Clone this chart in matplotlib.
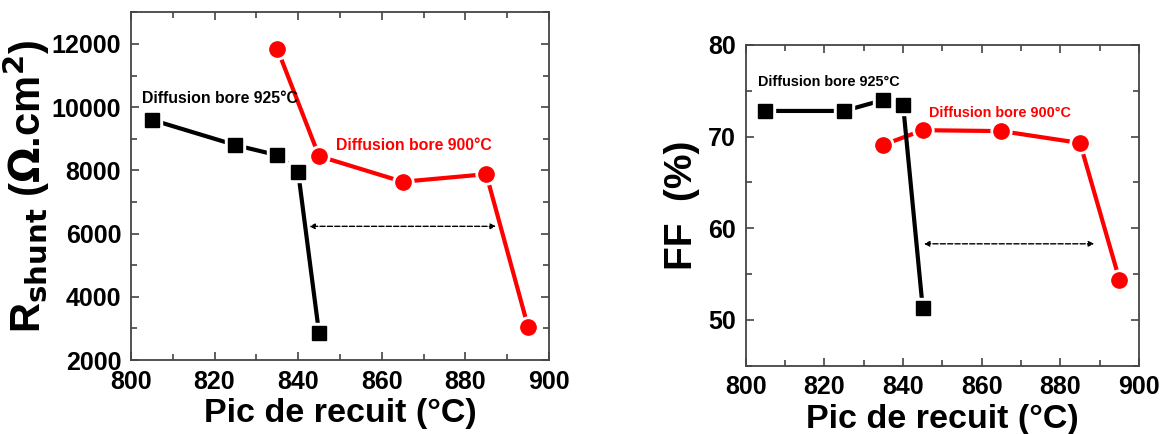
import matplotlib
matplotlib.use("Agg")
import matplotlib.pyplot as plt
from matplotlib.ticker import MultipleLocator

plt.rcParams['font.family'] = ['Liberation Sans', 'DejaVu Sans']
plt.rcParams['font.weight'] = 'bold'

# Data
x_925 = [805, 825, 835, 840, 845]
x_900 = [835, 845, 865, 885, 895]
rshunt_925 = [9600, 8800, 8480, 7950, 2850]
rshunt_900 = [11850, 8450, 7640, 7880, 3050]
ff_925 = [72.8, 72.8, 74.0, 73.5, 51.3]
ff_900 = [69.1, 70.7, 70.6, 69.3, 54.4]

label_925 = 'Diffusion bore 925°C'
label_900 = 'Diffusion bore 900°C'
red = '#ff0000'

fig = plt.figure(figsize=(11.63, 4.34), dpi=100)
ax1 = fig.add_axes([0.1126, 0.1705, 0.3594, 0.801])
ax2 = fig.add_axes([0.6412, 0.1574, 0.3382, 0.739])


def draw_series(ax, x, y, color, marker, ms):
    # Origin-like look: line stops short of each marker
    ax.plot(x, y, '-', color=color, lw=3, zorder=2)
    ax.plot(x, y, linestyle='none', marker=marker, color='white', ms=ms + 4, zorder=3)
    ax.plot(x, y, linestyle='none', marker=marker, color=color, ms=ms, zorder=4)


def style_axis(ax):
    for s in ax.spines.values():
        s.set_linewidth(1.3)
        s.set_color('#444444')
    ax.tick_params(which='both', direction='in', top=True, right=True,
                   labelsize=18, width=1.2, color='#444444', pad=7)
    ax.tick_params(which='major', length=6)
    ax.tick_params(which='minor', length=4)
    for lab in ax.get_xticklabels() + ax.get_yticklabels():
        lab.set_fontweight('bold')
    ax.set_xlim(800, 900)
    ax.xaxis.set_major_locator(MultipleLocator(20))
    ax.xaxis.set_minor_locator(MultipleLocator(10))
    ax.set_xlabel('Pic de recuit (°C)', fontsize=24.5, fontweight='bold', labelpad=3)


# Left panel: Rshunt
draw_series(ax1, x_900, rshunt_900, red, 'o', 11)
draw_series(ax1, x_925, rshunt_925, 'black', 's', 10)
ax1.set_ylim(2000, 13000)
ax1.yaxis.set_major_locator(MultipleLocator(2000))
ax1.yaxis.set_minor_locator(MultipleLocator(1000))
ax1.annotate('', xy=(842, 6230), xytext=(888, 6230),
             arrowprops=dict(arrowstyle='<|-|>', linestyle='--', color='black',
                             lw=1, mutation_scale=8))
ax1.text(802.6, 10280, label_925, fontsize=11.4, fontweight='bold',
         color='black', va='center')
ax1.text(849, 8800, label_900, fontsize=11.4, fontweight='bold',
         color=red, va='center')
ax1.set_ylabel(r'R$_{\mathbf{shunt}}$ ($\mathbf{\Omega}$.cm$^{\mathbf{2}}$)', fontsize=30,
               fontweight='bold', labelpad=0)
style_axis(ax1)

# Right panel: FF
draw_series(ax2, x_900, ff_900, red, 'o', 11)
draw_series(ax2, x_925, ff_925, 'black', 's', 10)
ax2.set_ylim(45, 80)
ax2.yaxis.set_major_locator(MultipleLocator(10))
ax2.yaxis.set_minor_locator(MultipleLocator(5))
ax2.annotate('', xy=(844.6, 58.3), xytext=(889.3, 58.3),
             arrowprops=dict(arrowstyle='<|-|>', linestyle='--', color='black',
                             lw=1, mutation_scale=8))
ax2.text(803.1, 76.0, label_925, fontsize=10.4, fontweight='bold',
         color='black', va='center')
ax2.text(846.6, 72.6, label_900, fontsize=10.4, fontweight='bold',
         color=red, va='center')
ax2.set_ylabel('FF  (%)', fontsize=28, fontweight='bold', labelpad=6)
style_axis(ax2)

fig.savefig('out.png', dpi=100)
